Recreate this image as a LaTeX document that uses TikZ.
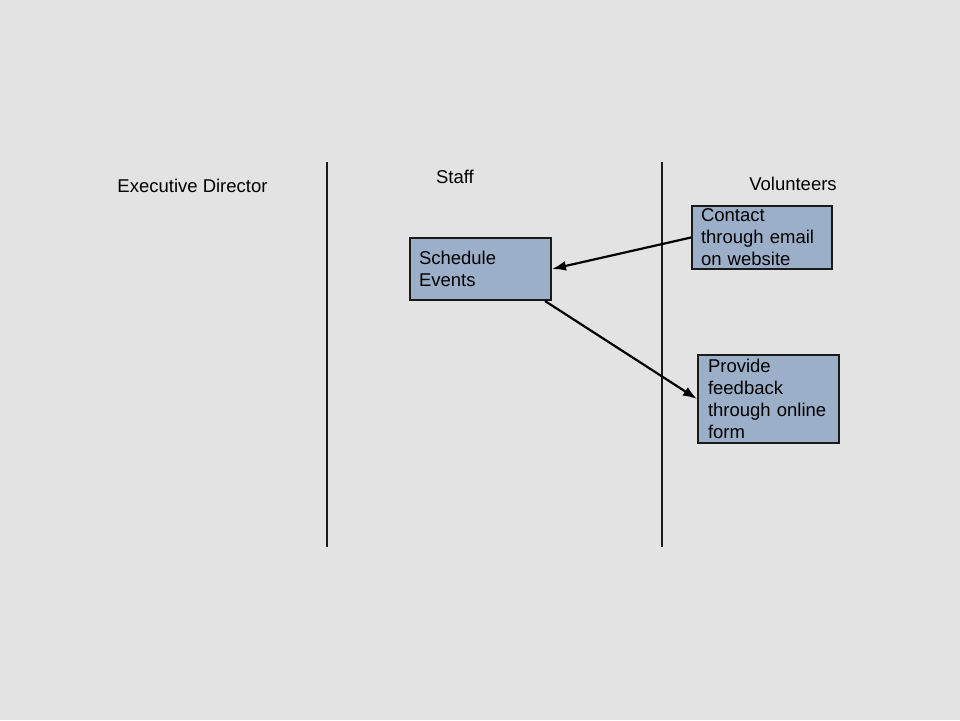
\documentclass[tikz,border=0pt]{standalone}
\usepackage{fontspec}
\setmainfont{Liberation Sans}
\usetikzlibrary{arrows.meta,positioning}
\definecolor{PageClr}{HTML}{E3E3E3}
\definecolor{BoxClr}{HTML}{9BAFC8}
\definecolor{LineClr}{HTML}{1A1A1A}

\begin{document}
\begin{tikzpicture}[x=1pt,y=-1pt,
  lane/.style={line width=2.4pt,color=LineClr},
  head/.style={font=\fontsize{18.5}{22}\selectfont,inner sep=0pt},
  task/.style={draw=LineClr,line width=2pt,fill=BoxClr,anchor=north west,
    font=\fontsize{18.5}{22}\selectfont,align=left,inner xsep=9pt,inner ysep=0pt},
  flow/.style={line width=2.2pt,color=black,-{Latex[length=14pt,width=10pt]}}]
\fill[PageClr] (0,0) rectangle (960,720);
\useasboundingbox (0,0) rectangle (960,720);

% swim lanes
\coordinate (l1t) at (327,162);
\coordinate (l1b) at (327,547);
\coordinate (l2t) at (662,162);
\coordinate (l2b) at (662,547);
\draw[lane] (l1t) -- (l1b);
\draw[lane] (l2t) -- (l2b);

\node[head] (exec) at (192.5,186) {Executive Director};
\node[head] (staff) at (455,177) {Staff};
\node[head] (vol) at (793,184) {Volunteers};

% tasks
\node[task,text width=123pt,minimum height=62pt] (sched) at (409,237) {Schedule\\Events};
\node[task,text width=122pt,minimum height=63pt] (contact) at (691,205) {Contact\\through email\\on website};
\node[task,text width=121pt,minimum height=88pt,inner xsep=10pt] (feed) at (697,354) {Provide\\feedback\\through online\\form};

\draw[flow] (contact.west) -- (sched.east);
\draw[flow] ([xshift=-7pt]sched.south east) -- (feed.west);

\end{tikzpicture}
\end{document}
